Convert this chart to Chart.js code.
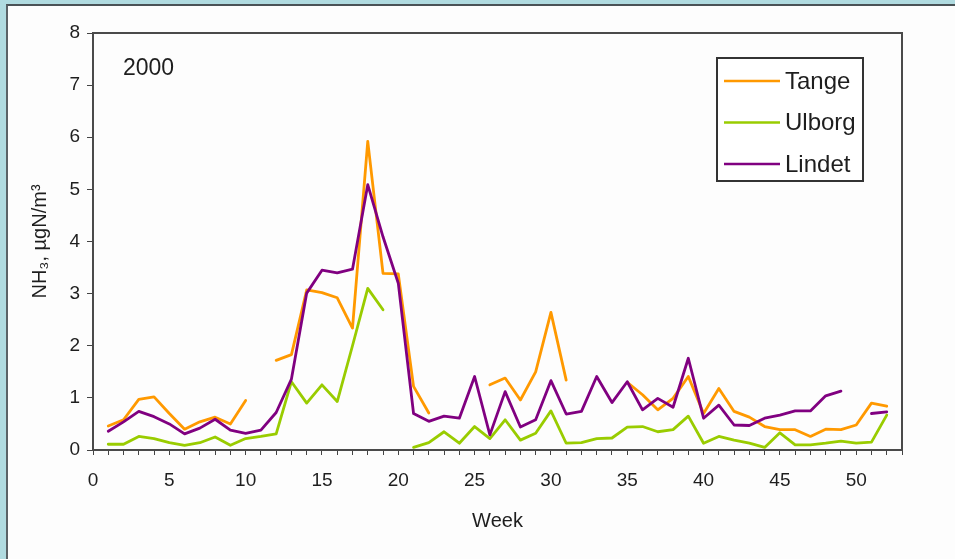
<!DOCTYPE html>
<html>
<head>
<meta charset="utf-8">
<title>NH3 2000</title>
<script src="https://cdn.jsdelivr.net/npm/chart.js@4/dist/chart.umd.min.js"></script>
<style>
  html, body { margin: 0; padding: 0; }
  body { width: 955px; height: 559px; background: #b0dbe0; position: relative; overflow: hidden; }
  #panel { position: absolute; left: 6px; top: 4px; right: 0; bottom: 0; background: #fdfdfd;
           border-left: 2px solid #5a6266; border-top: 2px solid #4a5256; }
  #c { position: absolute; left: 0; top: 0; }
</style>
</head>
<body>
<div id="panel"></div>
<canvas id="c" width="955" height="559"></canvas>
<script>
// Weekly mean NH3 concentrations, year 2000 (µgN/m³); null = no measurement
const weeks = [1, 2, 3, 4, 5, 6, 7, 8, 9, 10, 11, 12, 13, 14, 15, 16, 17, 18, 19, 20, 21, 22, 23, 24, 25, 26,
               27, 28, 29, 30, 31, 32, 33, 34, 35, 36, 37, 38, 39, 40, 41, 42, 43, 44, 45, 46, 47, 48, 49, 50, 51, 52];

const tange = [0.46, 0.58, 0.97, 1.02, 0.70, 0.40, 0.54, 0.63, 0.50, 0.95, null, 1.72, 1.83, 3.07, 3.02, 2.92,
               2.34, 5.92, 3.39, 3.38, 1.22, 0.71, null, null, null, 1.25, 1.38, 0.96, 1.50, 2.64, 1.34, null,
               null, null, 1.30, 1.06, 0.77, 0.99, 1.41, 0.70, 1.18, 0.74, 0.63, 0.45, 0.39, 0.39, 0.26, 0.40,
               0.39, 0.48, 0.90, 0.84];

const ulborg = [0.11, 0.11, 0.26, 0.22, 0.14, 0.09, 0.14, 0.25, 0.09, 0.22, 0.26, 0.31, 1.31, 0.90, 1.25, 0.93,
                2.00, 3.10, 2.69, null, 0.05, 0.14, 0.35, 0.13, 0.45, 0.22, 0.58, 0.19, 0.32, 0.75, 0.13, 0.14,
                0.22, 0.23, 0.44, 0.45, 0.35, 0.39, 0.65, 0.13, 0.26, 0.19, 0.13, 0.05, 0.33, 0.10, 0.10, 0.13,
                0.17, 0.13, 0.15, 0.67];

const lindet = [0.36, 0.54, 0.74, 0.64, 0.50, 0.31, 0.42, 0.59, 0.38, 0.32, 0.38, 0.72, 1.36, 3.01, 3.45, 3.40,
                3.47, 5.09, 4.09, 3.20, 0.70, 0.55, 0.65, 0.61, 1.41, 0.29, 1.12, 0.44, 0.58, 1.33, 0.69, 0.74,
                1.41, 0.91, 1.31, 0.77, 0.99, 0.82, 1.76, 0.61, 0.86, 0.48, 0.47, 0.61, 0.67, 0.75, 0.75, 1.04,
                1.13, null, 0.70, 0.73];

const seriesNames = ['Tange', 'Ulborg', 'Lindet'];
const seriesColors = ['#ff9900', '#99cc00', '#800080'];
const yearLabel = '2000';
const xTitle = 'Week';
const yTitle = 'NH\u2083, \u00b5gN/m\u00b3';

const FONT = '"Liberation Sans", Arial, sans-serif';
const TEXT = '#1e1e1e';

function toPoints(values) {
  return weeks.map((w, i) => ({ x: w, y: values[i] }));
}

// Plot frame, year label and boxed legend drawn on top of the chart
const decorations = {
  id: 'decorations',
  afterDatasetsDraw(chart) {
    const ctx = chart.ctx;
    const a = chart.chartArea;
    ctx.save();
    ctx.strokeStyle = '#4a4a4a';
    ctx.lineWidth = 2;
    ctx.strokeRect(a.left, a.top, a.right - a.left, a.bottom - a.top);

    ctx.fillStyle = TEXT;
    ctx.font = '23px ' + FONT;
    ctx.textBaseline = 'middle';
    ctx.textAlign = 'left';
    ctx.fillText(yearLabel, a.left + 30, a.top + 36);

    // legend
    const bx = 717, by = 58, bw = 146, bh = 123;
    ctx.fillStyle = '#ffffff';
    ctx.fillRect(bx, by, bw, bh);
    ctx.strokeStyle = '#333333';
    ctx.lineWidth = 2;
    ctx.strokeRect(bx, by, bw, bh);
    chart.data.datasets.forEach((ds, i) => {
      const y = by + 23 + i * 41.5;
      ctx.strokeStyle = ds.borderColor;
      ctx.lineWidth = 2.6;
      ctx.beginPath();
      ctx.moveTo(bx + 7, y);
      ctx.lineTo(bx + 63, y);
      ctx.stroke();
      ctx.fillStyle = TEXT;
      ctx.font = '24px ' + FONT;
      ctx.fillText(ds.label, bx + 68, y + 1);
    });
    ctx.restore();
  }
};

new Chart(document.getElementById('c'), {
  type: 'line',
  data: {
    datasets: [
      { label: seriesNames[0], data: toPoints(tange), borderColor: seriesColors[0], order: 3 },
      { label: seriesNames[1], data: toPoints(ulborg), borderColor: seriesColors[1], order: 2 },
      { label: seriesNames[2], data: toPoints(lindet), borderColor: seriesColors[2], order: 1 }
    ]
  },
  options: {
    responsive: false,
    animation: false,
    spanGaps: false,
    elements: {
      line: { borderWidth: 2.8, tension: 0, fill: false, borderJoinStyle: 'round', borderCapStyle: 'round' },
      point: { radius: 0, hoverRadius: 0 }
    },
    layout: { padding: { left: 22, top: 33, right: 53, bottom: 20 } },
    plugins: { legend: { display: false }, tooltip: { enabled: false } },
    scales: {
      x: {
        type: 'linear',
        min: 0,
        max: 53,
        afterFit(scale) { scale.height = 89; },
        border: { display: false },
        grid: { drawOnChartArea: false, drawTicks: true, tickLength: 5, color: '#444', lineWidth: 1 },
        ticks: {
          stepSize: 1,
          autoSkip: false,
          maxRotation: 0,
          padding: 14,
          color: TEXT,
          font: { family: FONT, size: 19 },
          callback: (v) => (v % 5 === 0 && v <= 50 ? String(v) : '')
        },
        title: { display: true, text: xTitle, color: TEXT, font: { family: FONT, size: 20 },
                 padding: { top: 2, bottom: 6 } }
      },
      y: {
        min: 0,
        max: 8,
        afterFit(scale) { scale.width = 71; },
        border: { display: false },
        grid: { drawOnChartArea: false, drawTicks: true, tickLength: 6, color: '#444', lineWidth: 1 },
        ticks: { stepSize: 1, padding: 7, color: TEXT, font: { family: FONT, size: 19 } },
        title: { display: true, text: yTitle, color: TEXT, font: { family: FONT, size: 20 },
                 padding: { top: 6, bottom: 2 } }
      }
    }
  },
  plugins: [decorations]
});
</script>
</body>
</html>
